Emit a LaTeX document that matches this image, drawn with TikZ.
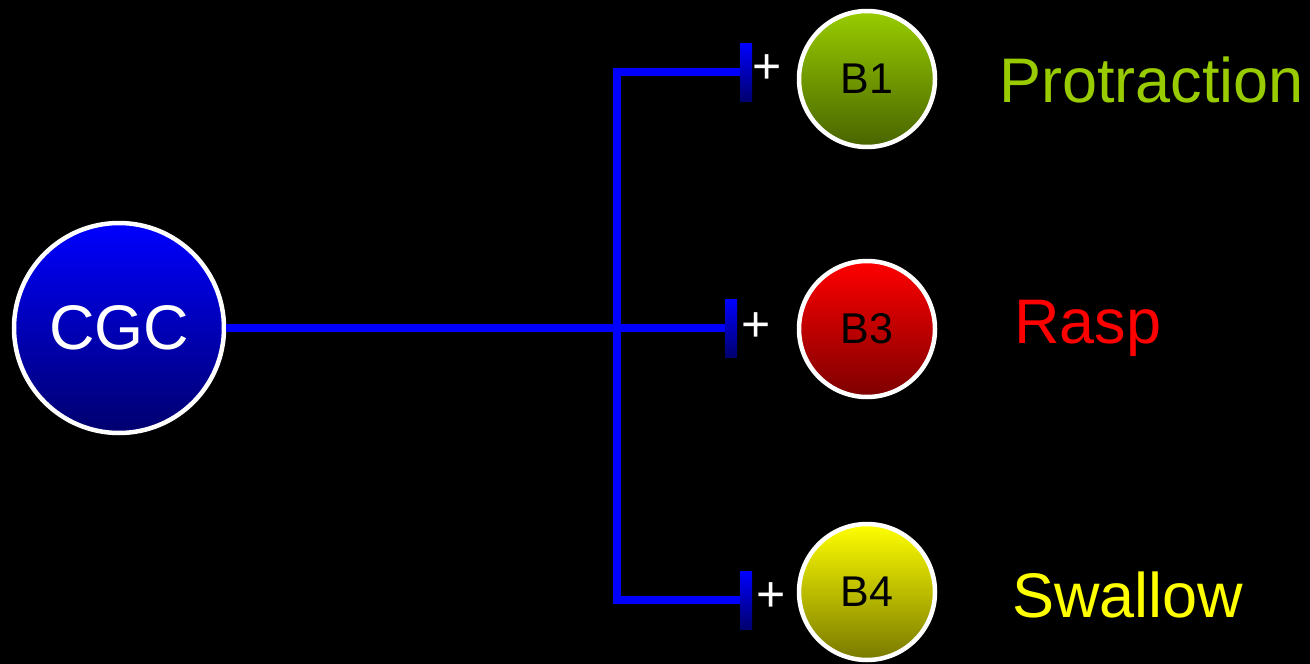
\documentclass[tikz,border=0pt]{standalone}
\usepackage{fontspec}
\setmainfont{Liberation Sans}
\definecolor{cgctop}{RGB}{0,0,255}
\definecolor{cgcbot}{RGB}{0,0,110}
\definecolor{bonetop}{RGB}{153,204,0}
\definecolor{bonebot}{RGB}{72,100,0}
\definecolor{bthreetop}{RGB}{255,0,0}
\definecolor{bthreebot}{RGB}{125,0,0}
\definecolor{bfourtop}{RGB}{255,255,0}
\definecolor{bfourbot}{RGB}{120,120,0}
\definecolor{protc}{RGB}{153,204,0}
\definecolor{linec}{RGB}{0,0,255}
\begin{document}
\begin{tikzpicture}[x=1pt,y=-1pt,
  neuron/.style={circle,draw=white,line width=4.5pt,inner sep=0pt},
  synbar/.style={rectangle,inner sep=0pt,minimum width=12pt,minimum height=58pt,top color=linec,bottom color=cgcbot},
  plus/.style={text=white,inner sep=0pt,font=\fontsize{50}{50}\selectfont},
  conn/.style={draw=linec,line width=8pt},
  beh/.style={anchor=base west,inner sep=0pt,font=\fontsize{63}{70}\selectfont}]
\fill[black] (0,0) rectangle (1310,664);
\useasboundingbox (0,0) rectangle (1310,664);
% neurons
\node[neuron,minimum size=210pt,top color=cgctop,bottom color=cgcbot,text=white,font=\fontsize{63}{63}\selectfont] (cgc) at (119,328) {CGC};
\node[neuron,minimum size=136pt,top color=bonetop,bottom color=bonebot,font=\fontsize{43}{43}\selectfont] (b1) at (867,79) {B1};
\node[neuron,minimum size=136pt,top color=bthreetop,bottom color=bthreebot,font=\fontsize{43}{43}\selectfont] (b3) at (867,329) {B3};
\node[neuron,minimum size=136pt,top color=bfourtop,bottom color=bfourbot,font=\fontsize{43}{43}\selectfont] (b4) at (867,592) {B4};
% synapse bars
\node[synbar] (s1) at (746,72) {};
\node[synbar] (s3) at (731,328) {};
\node[synbar] (s4) at (746,600) {};
% plus signs
\node[plus] (p1) at (767,69) {+};
\node[plus] (p3) at (756,327) {+};
\node[plus] (p4) at (771,597) {+};
% connectors
\coordinate (jv) at (617,328);
\draw[conn] (cgc.east) -- (s3.west);
\draw[conn] (s1.west) -| (jv) |- (s4.west);
% behaviours
\node[beh,text=protc] (lp) at (999,102) {Protraction};
\node[beh,text=bthreetop] (lr) at (1014,343) {Rasp};
\node[beh,text=bfourtop] (ls) at (1012,617) {Swallow};
\end{tikzpicture}
\end{document}
